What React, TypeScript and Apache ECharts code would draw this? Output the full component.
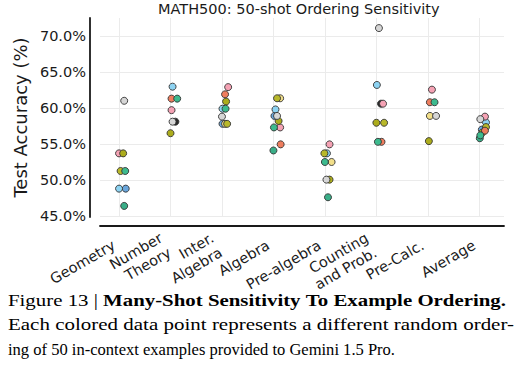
import React, { useEffect, useRef } from "react";
import * as echarts from "echarts";

const categories = ["Geometry", "Number\nTheory", "Inter.\nAlgebra", "Algebra", "Pre-algebra", "Counting\nand Prob.", "Pre-Calc.", "Average"];
const yTicks = [45, 50, 55, 60, 65, 70];
const xTicks = [0, 1, 2, 3, 4, 5, 6, 7];

// accuracy (%) per random ordering, per category (null = hidden behind other points)
const darkVals = [null, 58.1, null, null, null, 60.6, null, null];
const grayVals = [61.0, 58.1, 58.8, 58.9, 50.05, 71.1, 58.9, 58.45];
const pinkVals = [53.7, 59.7, 62.9, 57.3, 54.95, 60.6, 62.55, 58.8];
const salmonVals = [null, 61.3, 61.9, 54.95, null, 55.3, 60.8, 56.85];
const oliveVals = [53.7, 56.5, 60.9, 58.2, 50.05, 57.95, 55.4, 56.6];
const olive2Vals = [51.25, null, 57.8, 61.35, 53.7, 57.95, null, 57.35];
const khakiVals = [null, null, 57.8, 61.35, 52.5, null, 58.9, null];
const steelVals = [48.8, null, 57.8, 58.9, null, null, null, 57.0];
const lightBlueVals = [48.8, 62.96, 59.9, 59.8, 53.7, 63.2, null, 58.0];
const tealVals = [51.25, 61.3, 59.9, 57.3, 52.5, 55.3, 60.8, 56.2];
const teal2Vals = [46.4, null, null, 54.1, 47.6, null, null, 55.8];

// strip-plot horizontal jitter (category units)
const darkJit = [0, 0.095, 0, 0, 0, 0.09, 0, 0];
const grayJit = [0.1, 0.04, 0.0, 0.07, 0.03, 0.05, 0.16, 0.02];
const pinkJit = [0.0, 0.02, 0.12, 0.13, 0.09, 0.13, 0.08, 0.11];
const salmonJit = [0, 0.02, 0.06, 0.14, 0, 0.1, 0.04, 0.11];
const oliveJit = [0.08, 0.0, 0.08, 0.1, 0.09, 0.0, 0.02, 0.06];
const olive2Jit = [0.03, 0, 0.1, 0.07, -0.01, 0.15, 0, 0.13];
const khakiJit = [0, 0, 0.06, 0.13, 0.13, 0, 0.04, 0];
const steelJit = [0.13, 0, 0.01, 0.02, 0, 0, 0, 0.05];
const lightBlueJit = [0.0, 0.04, 0.01, 0.04, 0.04, 0.01, 0, 0.13];
const tealJit = [0.12, 0.13, 0.07, 0.01, 0.0, 0.03, 0.13, 0.02];
const teal2Jit = [0.1, 0, 0, 0.0, 0.06, 0, 0, 0.01];

const seriesDefs = [
  { name: "o1", vals: darkVals, jit: darkJit, color: "#2a2a2a" },
  { name: "o2", vals: steelVals, jit: steelJit, color: "#6aa6dc" },
  { name: "o3", vals: lightBlueVals, jit: lightBlueJit, color: "#8dd3f2" },
  { name: "o4", vals: khakiVals, jit: khakiJit, color: "#f2df8a" },
  { name: "o5", vals: olive2Vals, jit: olive2Jit, color: "#b8b82a" },
  { name: "o6", vals: pinkVals, jit: pinkJit, color: "#f5a2b4" },
  { name: "o7", vals: oliveVals, jit: oliveJit, color: "#acac1c" },
  { name: "o8", vals: salmonVals, jit: salmonJit, color: "#ee7d5e" },
  { name: "o9", vals: teal2Vals, jit: teal2Jit, color: "#3aae88" },
  { name: "o10", vals: tealVals, jit: tealJit, color: "#3dba8e" },
  { name: "o11", vals: grayVals, jit: grayJit, color: "#d6d6d6" },
];

const captionLine1 = [["Figure", false], ["13", false], ["|", false], ["Many-Shot", true], ["Sensitivity", true], ["To", true], ["Example", true], ["Ordering.", true]];
const captionLine2 = "Each colored data point represents a different random order-";
const captionLine3 = "ing of 50 in-context examples provided to Gemini 1.5 Pro.";

const SANS = "DejaVu Sans";
const SERIF = "Liberation Serif";
const CAP_FS = 17.5;

function buildCaption(): any[] {
  const ctx = document.createElement("canvas").getContext("2d")!;
  const meas = (t: string, b: boolean) => {
    ctx.font = `${b ? "bold " : ""}${CAP_FS}px "${SERIF}"`;
    return ctx.measureText(t).width;
  };
  const left = 8;
  const toWords = (s: string) => s.split(" ").map((w) => [w, false] as [string, boolean]);
  const lines: { parts: [string, boolean][]; right: number; baseline: number }[] = [
    { parts: captionLine1 as [string, boolean][], right: 506, baseline: 305 },
    { parts: toWords(captionLine2), right: 514, baseline: 329.5 },
    { parts: toWords(captionLine3), right: 395, baseline: 354.5 },
  ];
  return lines.map((ln) => {
    let x = 0;
    let end = 0;
    const children = ln.parts.map(([t, b]) => {
      const el = {
        type: "text",
        x,
        y: CAP_FS * 0.22,
        style: { text: t, fontFamily: SERIF, fontSize: CAP_FS, fontWeight: b ? "bold" : "normal", fill: "#000", textAlign: "left", textVerticalAlign: "bottom" },
      };
      end = x + meas(t, b);
      x = end + meas(" ", b);
      return el;
    });
    return { type: "group", x: left, y: ln.baseline, scaleX: (ln.right - left) / end, children };
  });
}

export default function App() {
  const ref = useRef<HTMLDivElement>(null);
  useEffect(() => {
    const chart = echarts.init(ref.current!, null, { renderer: "svg" });
    const series = seriesDefs.map((s) => ({
      type: "scatter",
      name: s.name,
      symbol: "circle",
      symbolSize: 7,
      itemStyle: { color: s.color, borderColor: "#333", borderWidth: 0.9, opacity: 1 },
      emphasis: { disabled: true },
      data: s.vals.map((v, i) => (v == null ? null : [i + s.jit[i], v])).filter((d) => d != null),
    }));
    chart.setOption({
      animation: false,
      title: {
        text: "MATH500: 50-shot Ordering Sensitivity",
        left: 158,
        top: 1,
        padding: 0,
        textStyle: { fontFamily: SANS, fontSize: 14.5, fontWeight: "normal", color: "#1a1a1a" },
      },
      grid: { left: 100, right: 23, top: 18, bottom: 154, containLabel: false },
      xAxis: {
        type: "value",
        min: -0.37,
        max: 7.48,
        offset: 9,
        axisLine: { show: true, onZero: false, lineStyle: { color: "#1a1a1a", width: 1.8 } },
        axisTick: { show: false, customValues: xTicks },
        splitLine: { show: true, lineStyle: { color: "#ebebeb", width: 1 } },
        axisLabel: {
          customValues: xTicks,
          formatter: (v: number) => categories[Math.round(v)] ?? "",
          rotate: 30,
          margin: 15,
          padding: [0, 6, 0, 0],
          fontFamily: SANS,
          fontSize: 14.5,
          lineHeight: 17,
          color: "#1a1a1a",
          align: "right",
        },
      },
      yAxis: {
        type: "value",
        min: 44.86,
        max: 72.5,
        offset: 10,
        name: "Test Accuracy (%)",
        nameLocation: "middle",
        nameGap: 44,
        nameTextStyle: { fontFamily: SANS, fontSize: 18, color: "#1a1a1a" },
        axisLine: { show: true, onZero: false, lineStyle: { color: "#1a1a1a", width: 1.8 } },
        axisTick: { show: false, customValues: yTicks },
        splitLine: { show: true, lineStyle: { color: "#ebebeb", width: 1 } },
        axisLabel: {
          customValues: yTicks,
          formatter: (v: number) => v.toFixed(1) + "%",
          margin: 4,
          fontFamily: SANS,
          fontSize: 14.5,
          color: "#1a1a1a",
        },
      },
      graphic: buildCaption(),
      series,
    });
    return () => chart.dispose();
  }, []);
  return <div ref={ref} style={{ width: 527, height: 371, position: "absolute", left: 0, top: 0, background: "#fff" }} />;
}
